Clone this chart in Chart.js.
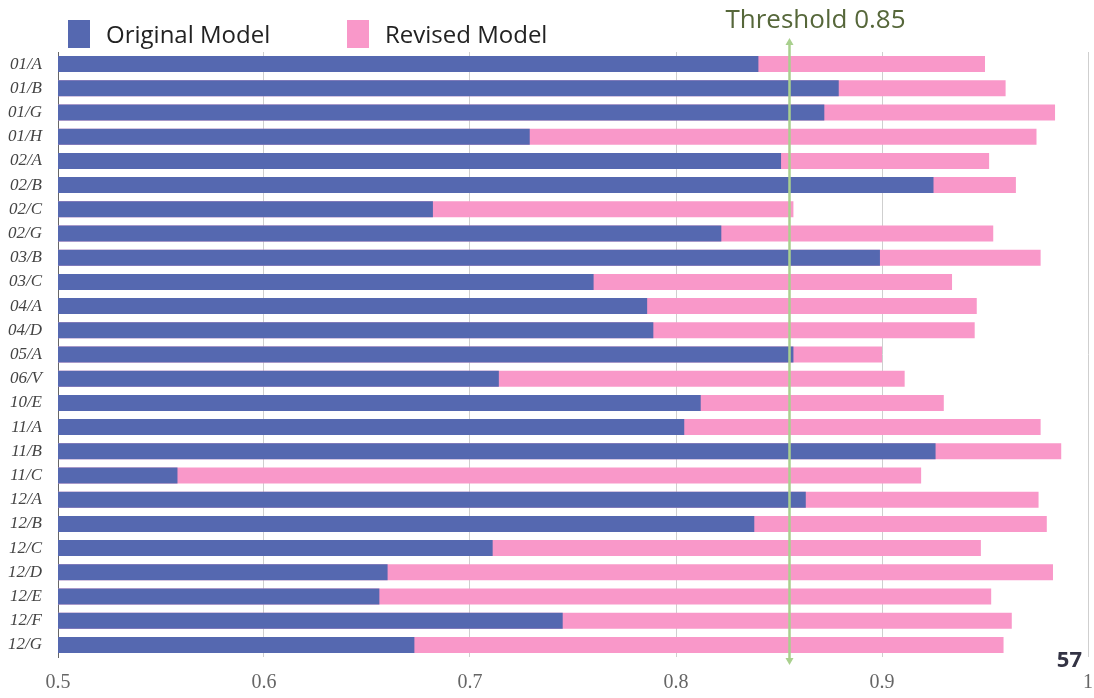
<!DOCTYPE html>
<html>
<head>
<meta charset="utf-8">
<script src="https://cdn.jsdelivr.net/npm/chart.js@4/dist/chart.umd.min.js"></script>
<style>
  html, body { margin: 0; padding: 0; background: #fff; }
  #wrap { position: relative; width: 1094px; height: 698px; }
</style>
</head>
<body>
<div id="wrap"><canvas id="myChart" width="1094" height="698"></canvas></div>
<script>
const categories = ["01/A", "01/B", "01/G", "01/H", "02/A", "02/B", "02/C", "02/G", "03/B", "03/C",
  "04/A", "04/D", "05/A", "06/V", "10/E", "11/A", "11/B", "11/C", "12/A", "12/B",
  "12/C", "12/D", "12/E", "12/F", "12/G"];
const originalModel = [0.840, 0.879, 0.872, 0.729, 0.851, 0.925, 0.682, 0.822, 0.899, 0.760,
  0.786, 0.789, 0.857, 0.714, 0.812, 0.804, 0.926, 0.558, 0.863, 0.838,
  0.711, 0.660, 0.656, 0.745, 0.673];
const revisedModel = [0.950, 0.960, 0.984, 0.975, 0.952, 0.965, 0.857, 0.954, 0.977, 0.934,
  0.946, 0.945, 0.900, 0.911, 0.930, 0.977, 0.987, 0.919, 0.976, 0.980,
  0.948, 0.983, 0.953, 0.963, 0.959];
const xTicks = [0.5, 0.6, 0.7, 0.8, 0.9, 1];
const thresholdValue = 0.855;
const thresholdLabel = "Threshold 0.85";
const pageNumber = "57";

const blue = "#5568b0";
const pink = "#f998c9";

// legend, threshold arrow and page number
const extras = {
  id: "extras",
  afterDatasetsDraw(chart) {
    const { ctx, scales } = chart;
    const x = Math.round(scales.x.getPixelForValue(thresholdValue)) + 0.5;
    const top = 38, bottom = 665;
    ctx.save();
    ctx.strokeStyle = "#a9d08e";
    ctx.fillStyle = "#a9d08e";
    ctx.lineWidth = 2.5;
    ctx.beginPath();
    ctx.moveTo(x, top + 4);
    ctx.lineTo(x, bottom - 4);
    ctx.stroke();
    ctx.beginPath();
    ctx.moveTo(x, top); ctx.lineTo(x - 4, top + 7); ctx.lineTo(x + 4, top + 7); ctx.closePath();
    ctx.fill();
    ctx.beginPath();
    ctx.moveTo(x, bottom); ctx.lineTo(x - 4, bottom - 7); ctx.lineTo(x + 4, bottom - 7); ctx.closePath();
    ctx.fill();

    ctx.fillStyle = "#56673a";
    ctx.font = "26px 'Open Sans'";
    ctx.textAlign = "center";
    ctx.textBaseline = "middle";
    ctx.fillText(thresholdLabel, x + 26, 21);

    // legend
    const items = chart.data.datasets.map(d => ({ label: d.label, color: d.backgroundColor }));
    const starts = [68, 347];
    ctx.font = "24px 'Open Sans'";
    ctx.textAlign = "left";
    items.forEach((it, i) => {
      ctx.fillStyle = it.color;
      ctx.fillRect(starts[i], 20, 22, 28);
      ctx.fillStyle = "#222";
      ctx.fillText(it.label, starts[i] + 38, 36);
    });

    ctx.font = "bold 22px 'Open Sans'";
    ctx.fillStyle = "#333344";
    ctx.textAlign = "right";
    ctx.fillText(pageNumber, 1082, 661);
    ctx.restore();
  }
};

const ctx = document.getElementById("myChart").getContext("2d");
new Chart(ctx, {
  type: "bar",
  data: {
    labels: categories,
    datasets: [
      { label: "Original Model", data: originalModel, backgroundColor: blue, grouped: false,
        barPercentage: 0.66, categoryPercentage: 1 },
      { label: "Revised Model", data: revisedModel, backgroundColor: pink, grouped: false,
        barPercentage: 0.66, categoryPercentage: 1 }
    ]
  },
  options: {
    indexAxis: "y",
    responsive: false,
    animation: false,
    layout: { padding: { top: 52, right: 6, bottom: 0, left: 0 } },
    plugins: { legend: { display: false }, tooltip: { enabled: false } },
    scales: {
      x: {
        min: 0.5,
        max: 1,
        afterBuildTicks: (s) => { s.ticks = xTicks.map(v => ({ value: v })); },
        afterFit: (s) => { s.height = 41; s.paddingLeft = 0; s.paddingRight = 0; },
        grid: { color: "#cfcfcf", drawTicks: false },
        border: { display: false },
        ticks: {
          padding: 14,
          color: "#666",
          font: { family: "'Liberation Serif'", size: 20 },
          callback: (v) => String(v)
        }
      },
      y: {
        afterFit: (s) => { s.width = 58; },
        grid: { display: false },
        border: { color: "#666", width: 1 },
        ticks: {
          padding: 8,
          color: "#444",
          autoSkip: false,
          font: { family: "'Liberation Serif'", size: 17, style: "italic" }
        }
      }
    }
  },
  plugins: [extras]
});
</script>
</body>
</html>
